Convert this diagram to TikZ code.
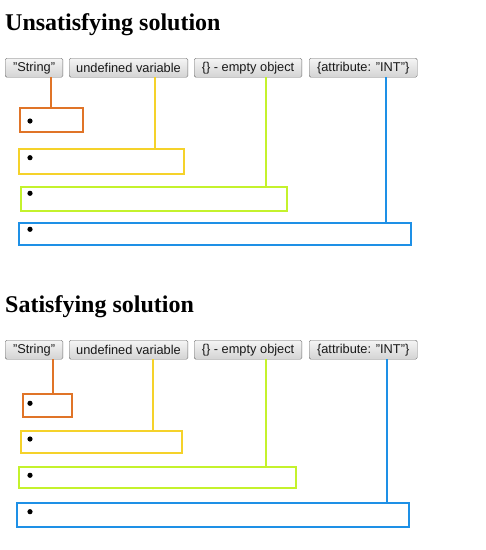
\documentclass[tikz,border=0pt]{standalone}
\usepackage{fontspec}
\setmainfont{Liberation Serif}
\setsansfont{Liberation Sans}
\usetikzlibrary{positioning}

\definecolor{strcol}{HTML}{E07428}
\definecolor{undefcol}{HTML}{F5D22A}
\definecolor{objcol}{HTML}{C4F22C}
\definecolor{attrcol}{HTML}{1E90E6}

\begin{document}
\begin{tikzpicture}[x=1pt, y=-1pt,
  title/.style={anchor=base west, inner sep=0pt, font=\fontsize{24}{28}\selectfont\bfseries},
  button/.style={anchor=north west, draw=black!58, rounded corners=1.5pt, top color=black!4, bottom color=black!17,
    inner sep=0pt, minimum height=19pt, text=black!90, font=\sffamily\fontsize{12.8}{15}\selectfont},
  valbox/.style={anchor=north west, draw, line width=2pt, inner sep=0pt},
  link/.style={line width=2pt}]
  \useasboundingbox (0,0) rectangle (486,550);

  % unsatisfying solution
  \node[title] (utitle) at (5,30.7) {Unsatisfying solution};
  \node[button, minimum width=57.7pt]  (ustr)   at (5,58)   {"String"};
  \node[button, minimum width=118.7pt] (uundef) at (69,58)  {undefined variable};
  \node[button, minimum width=107.7pt] (uobj)   at (194,58) {\{\} - empty object};
  \node[button, minimum width=108pt]   (uattr)  at (309,58) {\{attribute: "INT"\}};

  \node[valbox, draw=strcol,   minimum width=63pt,    minimum height=24pt]   (ustrbox)   at (19,107)    {};
  \node[valbox, draw=undefcol, minimum width=164.7pt, minimum height=25pt]   (uundefbox) at (18.3,147.7) {};
  \node[valbox, draw=objcol,   minimum width=266pt,   minimum height=23.7pt] (uobjbox)   at (19.7,186)  {};
  \node[valbox, draw=attrcol,  minimum width=391.7pt, minimum height=22pt]   (uattrbox)  at (18.3,222)  {};

  \draw[link, strcol]   ([xshift=46pt]ustr.south west)   -- ([xshift=46pt]ustr.south west |- ustrbox.north);
  \draw[link, undefcol] ([xshift=86pt]uundef.south west) -- ([xshift=86pt]uundef.south west |- uundefbox.north);
  \draw[link, objcol]   ([xshift=71.7pt]uobj.south west) -- ([xshift=71.7pt]uobj.south west |- uobjbox.north);
  \draw[link, attrcol]  ([xshift=76.7pt]uattr.south west) -- ([xshift=76.7pt]uattr.south west |- uattrbox.north);

  \fill (30,121) circle (2.6);
  \fill (30,157.7) circle (2.6);
  \fill (30,193.3) circle (2.6);
  \fill (30,229.3) circle (2.6);

  % satisfying solution
  \node[title] (stitle) at (5,312.7) {Satisfying solution};
  \node[button, minimum width=57.7pt]  (sstr)   at (5,340)   {"String"};
  \node[button, minimum width=118.7pt] (sundef) at (69,340)  {undefined variable};
  \node[button, minimum width=107.7pt] (sobj)   at (194,340) {\{\} - empty object};
  \node[button, minimum width=108pt]   (sattr)  at (309,340) {\{attribute: "INT"\}};

  \node[valbox, draw=strcol,   minimum width=49.6pt,  minimum height=23pt] (sstrbox)   at (21.7,393) {};
  \node[valbox, draw=undefcol, minimum width=161pt,   minimum height=22pt] (sundefbox) at (19.7,430) {};
  \node[valbox, draw=objcol,   minimum width=276.4pt, minimum height=21pt] (sobjbox)   at (18.3,466) {};
  \node[valbox, draw=attrcol,  minimum width=391.7pt, minimum height=24pt] (sattrbox)  at (16.3,502) {};

  \draw[link, strcol]   ([xshift=48pt]sstr.south west)   -- ([xshift=48pt]sstr.south west |- sstrbox.north);
  \draw[link, undefcol] ([xshift=84pt]sundef.south west) -- ([xshift=84pt]sundef.south west |- sundefbox.north);
  \draw[link, objcol]   ([xshift=71.7pt]sobj.south west) -- ([xshift=71.7pt]sobj.south west |- sobjbox.north);
  \draw[link, attrcol]  ([xshift=78pt]sattr.south west)  -- ([xshift=78pt]sattr.south west |- sattrbox.north);

  \fill (30,403.3) circle (2.6);
  \fill (30,439) circle (2.6);
  \fill (30,475.3) circle (2.6);
  \fill (30,511.7) circle (2.6);
\end{tikzpicture}
\end{document}
